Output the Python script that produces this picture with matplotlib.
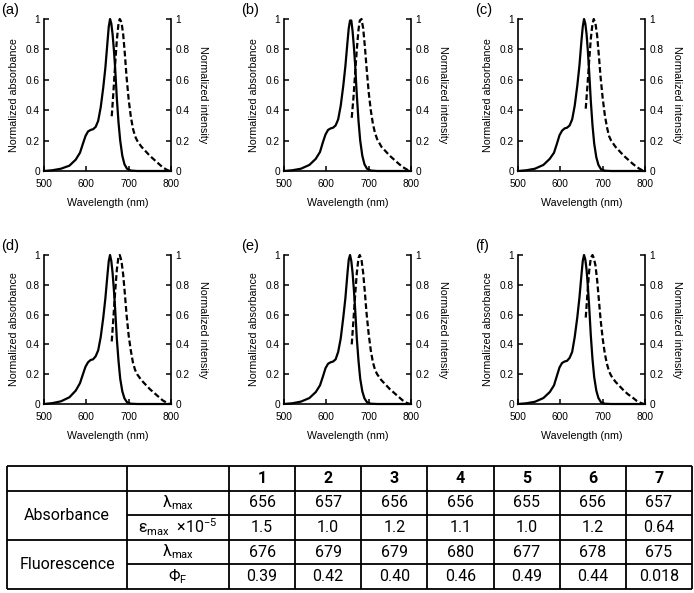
import matplotlib.pyplot as plt

plt.rcParams['font.family'] = ['Liberation Sans', 'DejaVu Sans']
plt.rcParams['mathtext.fontset'] = 'custom'
plt.rcParams['mathtext.rm'] = 'Roboto'
plt.rcParams['mathtext.it'] = 'Roboto:italic'

# ---- spectra ----
panel_labels = ['(a)', '(b)', '(c)', '(d)', '(e)', '(f)']

abs_wl = [500, 520, 540, 560, 575, 585, 592, 598, 604, 610, 616, 622, 628, 634, 640, 645,
          650, 653, 656, 659, 662, 665, 668, 672, 676, 680, 685, 690, 696, 705, 720, 800]
abs_a = [0, 0.005, 0.015, 0.035, 0.075, 0.12, 0.18, 0.23, 0.26, 0.27, 0.275, 0.29, 0.33, 0.42, 0.55, 0.68,
         0.85, 0.95, 1.0, 0.97, 0.9, 0.8, 0.68, 0.48, 0.32, 0.2, 0.1, 0.045, 0.015, 0.003, 0, 0]
abs_b = [0, 0.005, 0.015, 0.04, 0.08, 0.125, 0.19, 0.24, 0.27, 0.28, 0.285, 0.30, 0.34, 0.43, 0.56, 0.69,
         0.85, 0.94, 0.99, 0.99, 0.92, 0.82, 0.70, 0.50, 0.33, 0.2, 0.1, 0.045, 0.015, 0.003, 0, 0]
abs_c = [0, 0.005, 0.015, 0.04, 0.08, 0.12, 0.18, 0.235, 0.265, 0.28, 0.285, 0.30, 0.34, 0.43, 0.56, 0.69,
         0.86, 0.95, 1.0, 0.97, 0.9, 0.79, 0.66, 0.46, 0.3, 0.18, 0.09, 0.04, 0.012, 0.002, 0, 0]
abs_d = [0, 0.006, 0.018, 0.045, 0.09, 0.14, 0.2, 0.25, 0.28, 0.295, 0.30, 0.32, 0.36, 0.45, 0.58, 0.71,
         0.87, 0.96, 1.0, 0.96, 0.88, 0.77, 0.64, 0.44, 0.29, 0.17, 0.085, 0.038, 0.012, 0.002, 0, 0]
abs_e = [0, 0.005, 0.016, 0.04, 0.08, 0.125, 0.185, 0.24, 0.27, 0.28, 0.285, 0.30, 0.35, 0.44, 0.58, 0.71,
         0.88, 0.97, 1.0, 0.96, 0.88, 0.77, 0.64, 0.44, 0.29, 0.17, 0.085, 0.038, 0.012, 0.002, 0, 0]
abs_f = [0, 0.005, 0.015, 0.04, 0.08, 0.125, 0.19, 0.245, 0.275, 0.285, 0.29, 0.31, 0.35, 0.45, 0.58, 0.71,
         0.87, 0.96, 1.0, 0.97, 0.9, 0.79, 0.66, 0.46, 0.3, 0.18, 0.09, 0.04, 0.012, 0.002, 0, 0]

fl_wl = [660, 664, 668, 672, 676, 679, 683, 687, 691, 695, 700, 705, 710, 715, 720, 730,
         740, 750, 760, 770, 780, 790, 797]
fl_a = [0.36, 0.52, 0.70, 0.86, 0.97, 1.0, 0.98, 0.9, 0.77, 0.62, 0.47, 0.36, 0.28, 0.23, 0.2, 0.16,
        0.13, 0.1, 0.075, 0.05, 0.025, 0.008, 0]
fl_b = [0.35, 0.48, 0.64, 0.80, 0.93, 0.99, 1.0, 0.94, 0.82, 0.68, 0.52, 0.40, 0.31, 0.25, 0.21, 0.16,
        0.13, 0.1, 0.075, 0.05, 0.027, 0.01, 0]
fl_c = [0.41, 0.56, 0.72, 0.87, 0.97, 1.0, 0.97, 0.89, 0.76, 0.62, 0.48, 0.37, 0.29, 0.23, 0.2, 0.16,
        0.13, 0.1, 0.075, 0.05, 0.027, 0.01, 0]
fl_d = [0.42, 0.58, 0.75, 0.9, 0.99, 1.0, 0.96, 0.87, 0.74, 0.6, 0.46, 0.36, 0.28, 0.23, 0.2, 0.16,
        0.13, 0.1, 0.075, 0.05, 0.025, 0.008, 0]
fl_e = [0.40, 0.56, 0.73, 0.88, 0.98, 1.0, 0.97, 0.88, 0.75, 0.61, 0.47, 0.36, 0.28, 0.23, 0.2, 0.16,
        0.13, 0.1, 0.075, 0.05, 0.025, 0.008, 0]
fl_f = [0.58, 0.74, 0.89, 0.98, 1.0, 0.98, 0.93, 0.83, 0.7, 0.57, 0.44, 0.34, 0.27, 0.22, 0.19, 0.15,
        0.12, 0.09, 0.065, 0.045, 0.022, 0.007, 0]

abs_sets = [abs_a, abs_b, abs_c, abs_d, abs_e, abs_f]
fl_sets = [fl_a, fl_b, fl_c, fl_d, fl_e, fl_f]

xticks = [500, 600, 700, 800]
yticks = [0, 0.2, 0.4, 0.6, 0.8, 1]
ytick_labels = ['0', '0.2', '0.4', '0.6', '0.8', '1']

# ---- table contents ----
compounds = ['1', '2', '3', '4', '5', '6', '7']
abs_lmax = ['656', '657', '656', '656', '655', '656', '657']
eps_max = ['1.5', '1.0', '1.2', '1.1', '1.0', '1.2', '0.64']
fl_lmax = ['676', '679', '679', '680', '677', '678', '675']
phi_f = ['0.39', '0.42', '0.40', '0.46', '0.49', '0.44', '0.018']
groups = ['Absorbance', 'Fluorescence']
params = ['λ$_{\\mathrm{max}}$', 'ε$_{\\mathrm{max}}$  ×10$^{\\mathrm{-5}}$',
          'λ$_{\\mathrm{max}}$', 'Φ$_{\\mathrm{F}}$']

W, H = 694, 593
fig = plt.figure(figsize=(W / 100, H / 100), dpi=100)


def px_axes(left, top, w, h):
    return fig.add_axes([left / W, 1 - (top + h) / H, w / W, h / H])


lefts = [44, 284, 518]
tops = [19, 255]
heights = [152, 149]

for i in range(6):
    r, c = divmod(i, 3)
    ax = px_axes(lefts[c], tops[r], 127, heights[r])
    ax.plot(abs_wl, abs_sets[i], color='black', lw=1.6, clip_on=False, zorder=3)
    ax2 = ax.twinx()
    ax2.plot(fl_wl, fl_sets[i], color='black', lw=1.6, ls=(0, (2.6, 1.3)), clip_on=False)

    for a in (ax, ax2):
        a.set_xlim(500, 800)
        a.set_ylim(0, 1)
        a.spines['top'].set_visible(False)
        for s in a.spines.values():
            s.set_linewidth(1.2)
        a.set_yticks(yticks)
        a.set_yticklabels(ytick_labels)
        a.tick_params(direction='in', length=3.5, width=1.1, labelsize=7.3, pad=3)
    ax.tick_params(axis='x', pad=6)
    ax.spines['right'].set_visible(False)
    ax2.spines['left'].set_visible(False)
    ax2.spines['bottom'].set_visible(False)
    ax.set_xticks(xticks)
    ax.set_xlabel('Wavelength (nm)', fontsize=7.7, labelpad=6)
    ax.set_ylabel('Normalized absorbance', fontsize=7.7, labelpad=5)
    ax2.set_ylabel('Normalized intensity', fontsize=7.7, rotation=270, va='bottom', labelpad=6)

    fig.text((lefts[c] - 43) / W, 1 - (tops[r] - 16) / H, panel_labels[i],
             fontsize=10.5, va='top', ha='left')

# ---- table ----
col_w = [120, 102] + [66.14] * 7
edges = [0]
for w in col_w:
    edges.append(edges[-1] + w)
centers = [(edges[k] + edges[k + 1]) / 2 for k in range(len(col_w))]

axt = px_axes(7, 466, edges[-1], 123)
axt.set_xlim(0, edges[-1])
axt.set_ylim(5, 0)
axt.axis('off')

lw_t = 1.3
for y in [0, 1, 3, 5]:
    axt.hlines(y, 0, edges[-1], color='black', lw=lw_t, clip_on=False)
for y in [2, 4]:
    axt.hlines(y, edges[1], edges[-1], color='black', lw=lw_t, clip_on=False)
for x in edges:
    axt.vlines(x, 0, 5, color='black', lw=lw_t, clip_on=False)

tfont = dict(family=['Roboto', 'DejaVu Sans'], fontsize=11.5, ha='center', va='center')
for k, name in enumerate(compounds):
    axt.text(centers[k + 2], 0.5, name, fontweight='bold', **tfont)
axt.text(centers[0], 2, groups[0], **tfont)
axt.text(centers[0], 4, groups[1], **tfont)
for row, p in enumerate(params):
    axt.text(centers[1], row + 1.5, p, **tfont)
for row, vals in enumerate([abs_lmax, eps_max, fl_lmax, phi_f]):
    for k, v in enumerate(vals):
        axt.text(centers[k + 2], row + 1.5, v, **tfont)

fig.savefig('out.png', dpi=100)
